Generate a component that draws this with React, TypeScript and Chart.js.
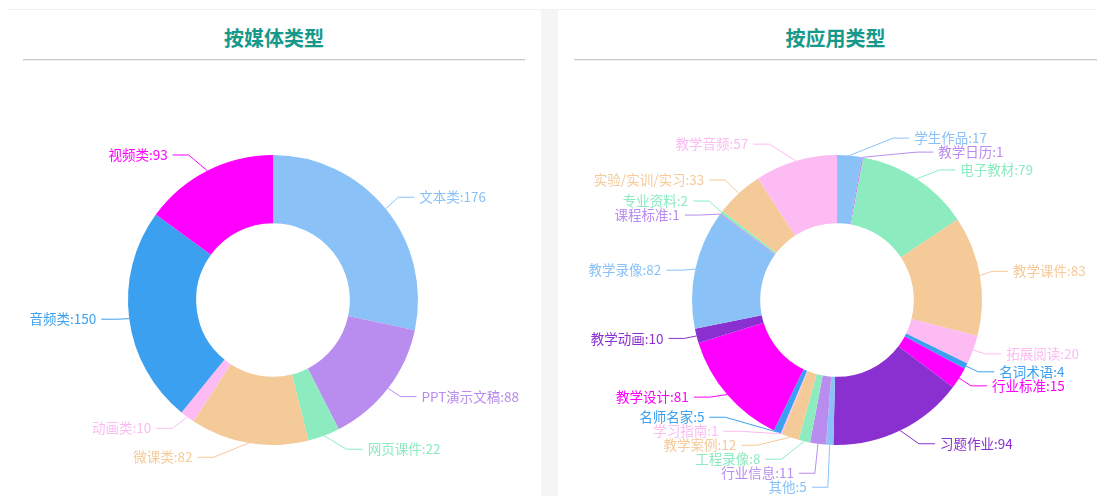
import React, { useEffect, useRef } from "react";
import { Chart, registerables } from "chart.js";

Chart.register(...registerables);

// ---- data ----
const palette = ["#8ac2f8", "#b98cef", "#8debc0", "#f5ca99", "#fdbbf3", "#3ba0ef", "#ff00ff", "#8b30d0"];

const mediaTitle = "按媒体类型";
const mediaCategories = ["文本类", "PPT演示文稿", "网页课件", "微课类", "动画类", "音频类", "视频类"];
const mediaValues = [176, 88, 22, 82, 10, 150, 93];

const appTitle = "按应用类型";
const appCategories = [
  "学生作品", "教学日历", "电子教材", "教学课件", "拓展阅读", "名词术语", "行业标准",
  "习题作业", "其他", "行业信息", "工程录像", "教学案例", "学习指南", "名师名家",
  "教学设计", "教学动画", "教学录像", "课程标准", "专业资料", "实验/实训/实习", "教学音频",
];
const appValues = [17, 1, 79, 83, 20, 4, 15, 94, 5, 11, 8, 12, 1, 5, 81, 10, 82, 1, 2, 33, 57];

const LABEL_FONT = '13.5px "Noto Sans CJK SC", "Microsoft YaHei", sans-serif';

// ---- outside label layout (leader lines) ----
type LabelItem = {
  x: number; y: number; height: number; len: number; len2: number;
  x1: number; y1: number; dir: number; text: string; color: string;
};

function adjustSingleSide(list: LabelItem[], cx: number, cy: number, r: number, dir: number, viewTop: number, viewHeight: number) {
  list.sort((a, b) => a.y - b.y);
  function shiftUp(end: number, delta: number) {
    for (let j = end; j >= 0; j--) {
      if (list[j].y - delta < viewTop) break;
      list[j].y -= delta;
      if (j > 0 && list[j].y > list[j - 1].y + list[j - 1].height) break;
    }
  }
  function shiftDown(start: number, end: number, delta: number) {
    for (let j = start; j < end; j++) {
      if (list[j].y + delta > viewTop + viewHeight) break;
      list[j].y += delta;
      if (j > start && j + 1 < end && list[j + 1].y > list[j].y + list[j].height) {
        shiftUp(j, delta / 2);
        return;
      }
    }
    shiftUp(end - 1, delta / 2);
  }
  function changeX(items: LabelItem[], isDown: boolean) {
    let last = isDown ? Number.MAX_VALUE : 0;
    for (const it of items) {
      const dy = Math.abs(it.y - cy);
      const R = r + it.len + it.len2;
      let dx = dy < r + it.len ? Math.sqrt(R * R - dy * dy) : Math.abs(it.x - cx);
      if (isDown && dx >= last) dx = last - 10;
      if (!isDown && dx <= last) dx = last + 10;
      it.x = cx + dx * dir;
      last = dx;
    }
  }
  let lastY = 0;
  const n = list.length;
  for (let i = 0; i < n; i++) {
    const delta = list[i].y - lastY;
    if (delta < 0) shiftDown(i, n, -delta);
    lastY = list[i].y + list[i].height;
  }
  if (viewHeight - lastY < 0) shiftUp(n - 1, lastY - viewHeight);
  const up: LabelItem[] = [];
  const down: LabelItem[] = [];
  for (const it of list) (it.y >= cy ? down : up).push(it);
  changeX(up, false);
  changeX(down, true);
}

const pieLabelPlugin = {
  id: "pieOuterLabels",
  afterDatasetsDraw(chart: any) {
    const meta = chart.getDatasetMeta(0);
    const ds = chart.data.datasets[0];
    const labels = chart.data.labels;
    const ctx = chart.ctx;
    const LEN = 16, LEN2 = 17, DIST = 5, H = 14, YOFF = -1.5;
    const items: LabelItem[] = [];
    let cx = 0, cy = 0, r = 0;
    meta.data.forEach((arc: any, i: number) => {
      const p = arc.getProps(["x", "y", "startAngle", "endAngle", "outerRadius"], true);
      cx = p.x; cy = p.y; r = p.outerRadius;
      const mid = (p.startAngle + p.endAngle) / 2;
      const dx = Math.cos(mid), dy = Math.sin(mid);
      const x1 = cx + r * dx, y1 = cy + r * dy;
      const x2 = x1 + dx * LEN, y2 = y1 + dy * LEN;
      const dir = dx < 0 ? -1 : 1;
      const x3 = x2 + dir * LEN2;
      items.push({
        x: x3 + dir * DIST, y: y2, height: H, len: LEN, len2: LEN2,
        x1, y1, dir, text: `${labels[i]}:${ds.data[i]}`, color: ds.backgroundColor[i],
      });
    });
    const viewHeight = 434;
    const leftList = items.filter((it) => it.x < cx);
    const rightList = items.filter((it) => it.x >= cx);
    adjustSingleSide(rightList, cx, cy, r, 1, 0, viewHeight);
    adjustSingleSide(leftList, cx, cy, r, -1, 0, viewHeight);

    ctx.save();
    ctx.font = LABEL_FONT;
    ctx.textBaseline = "middle";
    ctx.lineWidth = 1;
    for (const it of items) {
      const left = it.x < cx;
      const y = it.y + YOFF;
      const p3x = left ? it.x + DIST : it.x - DIST;
      const p2x = left ? p3x + 16 : p3x - 16;
      ctx.strokeStyle = it.color;
      ctx.beginPath();
      ctx.moveTo(it.x1, it.y1);
      ctx.lineTo(p2x, y);
      ctx.lineTo(p3x, y);
      ctx.stroke();
      ctx.fillStyle = it.color;
      ctx.textAlign = left ? "right" : "left";
      ctx.fillText(it.text, it.x, y);
    }
    ctx.restore();
  },
};

type PanelProps = {
  title: string; categories: string[]; values: number[];
  left: number; width: number; lineLeft: number; lineWidth: number;
  padLeft: number; padRight: number;
};

function DonutPanel(props: PanelProps) {
  const ref = useRef<HTMLCanvasElement | null>(null);
  const canvasHeight = 460;
  useEffect(() => {
    if (!ref.current) return;
    const chart = new Chart(ref.current, {
      type: "doughnut",
      data: {
        labels: props.categories,
        datasets: [{
          data: props.values,
          backgroundColor: props.values.map((_, i) => palette[i % palette.length]),
          borderWidth: 0,
          hoverOffset: 0,
        }],
      },
      options: {
        responsive: false,
        animation: false,
        events: [],
        radius: 145,
        cutout: "53%",
        layout: { padding: { left: props.padLeft, right: props.padRight, top: 0, bottom: 0 } },
        plugins: { legend: { display: false }, tooltip: { enabled: false } },
      } as any,
      plugins: [pieLabelPlugin as any],
    });
    return () => chart.destroy();
  }, []);
  return (
    <div style={{ position: "absolute", left: props.left, top: 2, width: props.width, height: 486, background: "#fff" }}>
      <div style={{
        position: "absolute", left: props.lineLeft, width: props.lineWidth, top: 14, height: 28, lineHeight: "28px",
        textAlign: "center", fontFamily: '"Noto Sans CJK SC", sans-serif', fontWeight: 700, fontSize: 20, color: "#16998b",
      }}>{props.title}</div>
      <div style={{
        position: "absolute", left: props.lineLeft, width: props.lineWidth, top: 49, height: 1,
        background: "#c8c8c8", boxShadow: "0 1px 1px rgba(0,0,0,0.08)",
      }} />
      <canvas ref={ref} width={props.width} height={canvasHeight}
        style={{ position: "absolute", left: 0, top: 60, width: props.width, height: canvasHeight }} />
    </div>
  );
}

export default function App() {
  return (
    <div style={{ position: "relative", width: 1097, height: 488, overflow: "hidden", background: "#fff" }}>
      <div style={{ position: "absolute", left: 0, top: 1, width: 1097, height: 1, background: "#f1f1f1" }} />
      <div style={{ position: "absolute", left: 533, top: 2, width: 17, height: 486, background: "#f5f5f5" }} />
      <DonutPanel title={mediaTitle} categories={mediaCategories} values={mediaValues}
        left={0} width={533} lineLeft={15} lineWidth={502} padLeft={0} padRight={3} />
      <DonutPanel title={appTitle} categories={appCategories} values={appValues}
        left={550} width={547} lineLeft={16} lineWidth={523} padLeft={11} padRight={0} />
    </div>
  );
}
